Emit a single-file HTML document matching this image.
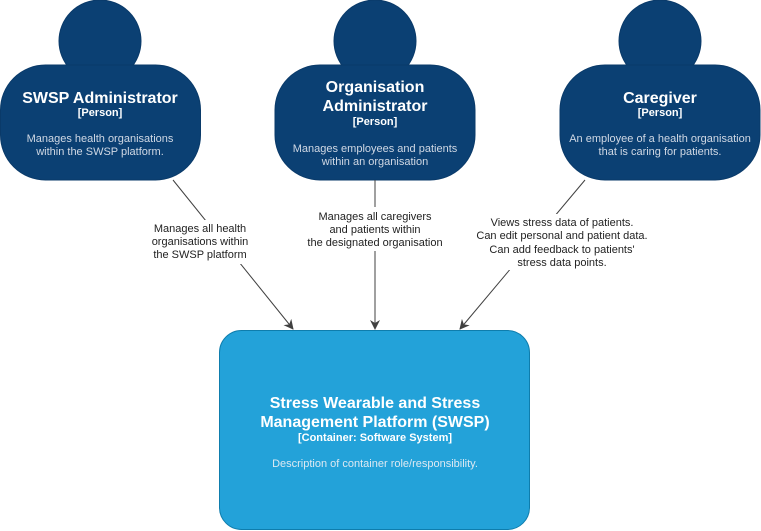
<!DOCTYPE html>
<html><head><meta charset="utf-8"><style>
html,body{margin:0;padding:0;background:#fff;}
svg{display:block;font-family:"Liberation Sans",Arial,sans-serif;}
</style></head><body>
<svg width="761" height="531" viewBox="0 0 761 531" xmlns="http://www.w3.org/2000/svg">
<defs><marker id="a" markerWidth="10" markerHeight="10" refX="9" refY="5" orient="auto" markerUnits="userSpaceOnUse"><path d="M0,0 L10,5 L0,10 L3,5 z" fill="#404040"/></marker></defs>
<g fill="#0b4073" stroke="#0a3a69" stroke-width="1">
<circle cx="100" cy="41" r="41"/><rect x="0.5" y="65" width="200" height="115" rx="45"/>
<circle cx="375" cy="41" r="41"/><rect x="275" y="65" width="200" height="115" rx="45"/>
<circle cx="660" cy="41" r="41"/><rect x="560" y="65" width="200" height="115" rx="45"/>
</g>
<rect x="219.5" y="330.5" width="310" height="199" rx="22" fill="#23a2d9" stroke="#0e7dad"/>
<g stroke="#404040" stroke-width="1" fill="none">
<line x1="173" y1="180" x2="293" y2="329" marker-end="url(#a)"/>
<line x1="375" y1="180" x2="375" y2="329" marker-end="url(#a)"/>
<line x1="585" y1="180" x2="460" y2="329" marker-end="url(#a)"/>
</g>
<g fill="#fff" text-anchor="middle">
<text x="100" y="103" font-size="16" font-weight="bold">SWSP Administrator</text>
<text x="100" y="116" font-size="11" font-weight="bold">[Person]</text>
<text x="100" y="142" font-size="11" fill="#d0d8e4">Manages health organisations</text>
<text x="100" y="155" font-size="11" fill="#d0d8e4">within the SWSP platform.</text>
<text x="375" y="92" font-size="16" font-weight="bold">Organisation</text>
<text x="375" y="111" font-size="16" font-weight="bold">Administrator</text>
<text x="375" y="125" font-size="11" font-weight="bold">[Person]</text>
<text x="375" y="152" font-size="11" fill="#d0d8e4">Manages employees and patients</text>
<text x="375" y="165" font-size="11" fill="#d0d8e4">within an organisation</text>
<text x="660" y="103" font-size="16" font-weight="bold">Caregiver</text>
<text x="660" y="116" font-size="11" font-weight="bold">[Person]</text>
<text x="660" y="142" font-size="11" fill="#d0d8e4">An employee of a health organisation</text>
<text x="660" y="155" font-size="11" fill="#d0d8e4">that is caring for patients.</text>
<text x="375" y="408" font-size="16" font-weight="bold">Stress Wearable and Stress</text>
<text x="375" y="427" font-size="16" font-weight="bold">Management Platform (SWSP)</text>
<text x="375" y="441" font-size="11" font-weight="bold">[Container: Software System]</text>
<text x="375" y="467" font-size="11" fill="#dde9f2">Description of container role/responsibility.</text>
</g>
<g font-size="11" fill="#222" text-anchor="middle">
<rect x="150" y="220" width="100" height="44" fill="#fff"/>
<text x="200" y="232">Manages all health</text>
<text x="200" y="245">organisations within</text>
<text x="200" y="258">the SWSP platform</text>
<rect x="305" y="207" width="140" height="44" fill="#fff"/>
<text x="375" y="220">Manages all caregivers</text>
<text x="375" y="233">and patients within</text>
<text x="375" y="246">the designated organisation</text>
<rect x="474" y="214" width="168" height="56" fill="#fff"/>
<text x="562" y="226">Views stress data of patients.</text>
<text x="562" y="239">Can edit personal and patient data.</text>
<text x="562" y="253">Can add feedback to patients'</text>
<text x="562" y="266">stress data points.</text>
</g>
</svg>
</body></html>
